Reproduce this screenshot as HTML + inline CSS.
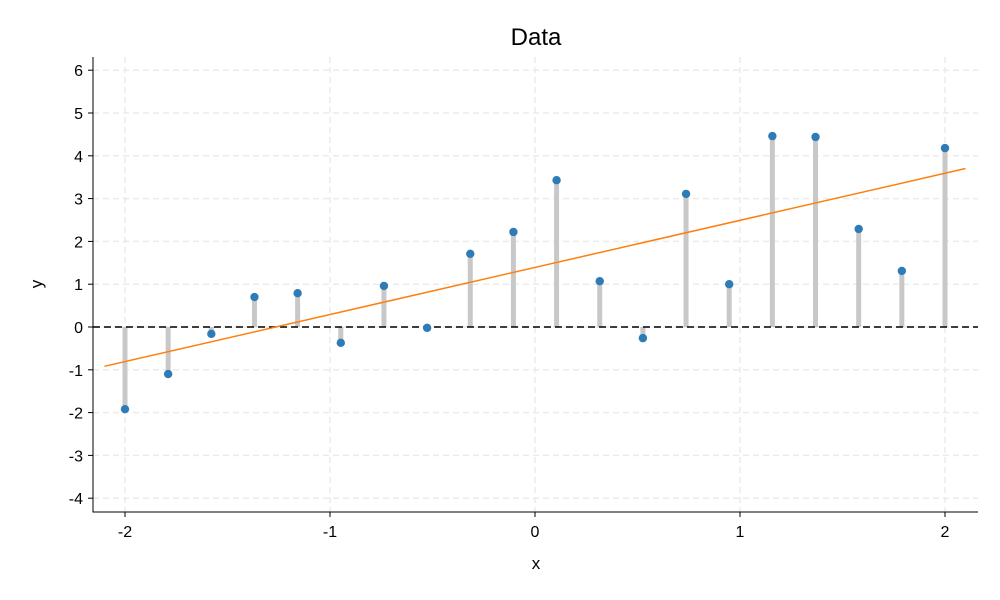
<!DOCTYPE html>
<html><head><meta charset="utf-8"><style>
body{margin:0;background:#fff;}
svg{display:block;font-family:"Liberation Sans",Arial,sans-serif;}
</style></head><body>
<svg id="chart" width="1000" height="600" viewBox="0 0 1000 600">
<text x="536" y="45" font-size="24" text-anchor="middle">Data</text>
<g id="grid"></g>
<g id="stems"></g>
<g id="fit"></g>
<g id="pts"></g>
<g id="axes"></g>
<text x="536" y="569" font-size="17" text-anchor="middle">x</text>
<text x="42" y="284" font-size="17" text-anchor="middle" transform="rotate(-90 42 284)">y</text>
</svg>
<script>
const xTicks=[-2,-1,0,1,2];
const yTicks=[-4,-3,-2,-1,0,1,2,3,4,5,6];
const yValues=[-1.92,-1.1,-0.16,0.70,0.79,-0.37,0.96,-0.02,1.71,2.22,3.43,1.07,-0.26,3.11,1.0,4.46,4.44,2.29,1.31,4.18];
const xValues=yValues.map((v,i)=>-2+4*i/(yValues.length-1));
const fitRange=[-2.1,2.1];
const NS='http://www.w3.org/2000/svg';
const L=93,R=978,T=57,B=512;
const sx=v=>535+v*205;
const sy=v=>327-v*42.8;
function mk(tag,attrs,parent,text){const e=document.createElementNS(NS,tag);for(const k in attrs)e.setAttribute(k,attrs[k]);if(text!==undefined)e.textContent=text;document.getElementById(parent).appendChild(e);return e;}
xTicks.forEach(t=>{
 const g=mk('line',{x1:sx(t),x2:sx(t),y1:T,y2:B,stroke:'#ebebeb','stroke-width':1.5,'stroke-dasharray':'6,4'},'grid');
 
 
 const tk=mk('line',{x1:sx(t),x2:sx(t),y1:B,y2:B+5,stroke:'#000'},'axes');
 
 
 const lb=mk('text',{x:sx(t),y:B+25,'font-size':16,'text-anchor':'middle'},'axes',String(t));
 
 
});
yTicks.forEach(t=>{
 const g=mk('line',{x1:L,x2:R,y1:sy(t),y2:sy(t),stroke:'#ebebeb','stroke-width':1.5,'stroke-dasharray':'6,4'},'grid');
 
 
 const tk=mk('line',{x1:L-5,x2:L,y1:sy(t),y2:sy(t),stroke:'#000'},'axes');
 
 
 const lb=mk('text',{x:L-10,y:sy(t)+6,'font-size':16,'text-anchor':'end'},'axes',String(t));
 
 
});
xValues.forEach((x,i)=>{
 const s=mk('line',{x1:sx(x),x2:sx(x),y1:sy(0),y2:sy(yValues[i]),stroke:'#c8c8c8','stroke-width':5},'stems');
 
 
});
const z=mk('line',{x1:L,x2:R,y1:sy(0),y2:sy(0),stroke:'#000','stroke-width':1.6,'stroke-dasharray':'7,4'},'stems');


const n=xValues.length,mx=xValues.reduce((a,b)=>a+b)/n,my=yValues.reduce((a,b)=>a+b)/n;
let sxy=0,sxx=0;xValues.forEach((x,i)=>{sxy+=(x-mx)*(yValues[i]-my);sxx+=(x-mx)*(x-mx);});
const b=sxy/sxx,a=my-b*mx;
const f=mk('line',{x1:sx(fitRange[0]),y1:sy(a+b*fitRange[0]),x2:sx(fitRange[1]),y2:sy(a+b*fitRange[1]),stroke:'#ff7f0e','stroke-width':1.5},'fit');


xValues.forEach((x,i)=>{
 const c=mk('circle',{cx:sx(x),cy:sy(yValues[i]),r:4.2,fill:'#2f7bb6'},'pts');
 
 
});
const ax=mk('path',{d:`M${L} ${T} V${B} H${R}`,fill:'none',stroke:'#000','stroke-width':1},'axes');


</script>
</body></html>
